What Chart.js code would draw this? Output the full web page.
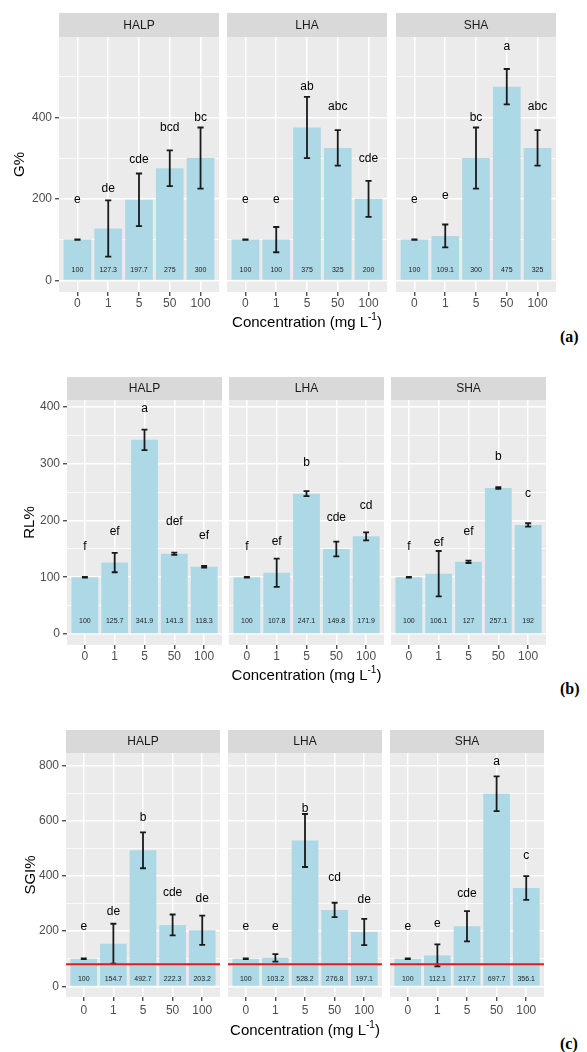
<!DOCTYPE html>
<html><head><meta charset="utf-8">
<script src="https://cdn.jsdelivr.net/npm/chart.js@4.4.0/dist/chart.umd.min.js"></script>
<style>
html,body{margin:0;padding:0;background:#fff;}
body{width:587px;height:1052px;position:relative;overflow:hidden;}
canvas{position:absolute;}
.tag{position:absolute;font-family:"Liberation Serif","Times New Roman",serif;font-weight:bold;font-size:16px;color:#000;line-height:16px;}
</style></head><body>
<div class="tag" style="left:560px;top:329px">(a)</div>
<div class="tag" style="left:560px;top:681px">(b)</div>
<div class="tag" style="left:560px;top:1036px">(c)</div>
<script>
// ---------------- data ----------------
const categories = ['0', '1', '5', '50', '100'];
const facetNames = ['HALP', 'LHA', 'SHA'];

// G% (panel a) — rows: HALP, LHA, SHA
const gMeans   = [[100, 127.3, 197.7, 275, 300], [100, 100, 375, 325, 200], [100, 109.1, 300, 475, 325]];
const gSD      = [[0.6, 69, 64.5, 44, 75], [0.6, 31, 75, 43.5, 44], [0.6, 28, 75, 43.5, 43.5]];
const gLetters = [['e', 'de', 'cde', 'bcd', 'bc'], ['e', 'e', 'ab', 'abc', 'cde'], ['e', 'e', 'bc', 'a', 'abc']];
const gLetterY = [[197, 225, 297, 375, 399], [197, 197, 475, 425, 298], [197, 207, 399, 574, 425]];
const gMajorTicks = [0, 200, 400];
const gMinorTicks = [100, 300, 500];

// RL% (panel b)
const rlMeans   = [[100, 125.7, 341.9, 141.3, 118.3], [100, 107.8, 247.1, 149.8, 171.9], [100, 106.1, 127, 257.1, 192]];
const rlSD      = [[0.6, 17, 18, 2, 1.5], [0.6, 25, 4.5, 13, 7], [0.6, 40, 2, 1.5, 3]];
const rlLetters = [['f', 'ef', 'a', 'def', 'ef'], ['f', 'ef', 'b', 'cde', 'cd'], ['f', 'ef', 'ef', 'b', 'c']];
const rlLetterY = [[154, 180, 397, 197, 173], [154, 163, 302, 204, 226], [154, 161, 181, 312, 247]];
const rlMajorTicks = [0, 100, 200, 300, 400];
const rlMinorTicks = [50, 150, 250, 350];

// SGI% (panel c)
const sgiMeans   = [[100, 154.7, 492.7, 222.3, 203.2], [100, 103.2, 528.2, 276.8, 197.1], [100, 112.1, 217.7, 697.7, 356.1]];
const sgiSD      = [[1, 72, 65, 38, 53], [1, 13.5, 96, 26, 47.5], [1, 40, 55, 63, 43]];
const sgiLetters = [['e', 'de', 'b', 'cde', 'de'], ['e', 'e', 'b', 'cd', 'de'], ['e', 'e', 'cde', 'a', 'c']];
const sgiLetterY = [[215, 270, 610, 339, 318], [215, 217, 645, 392, 314], [215, 226, 335, 814, 473]];
const sgiMajorTicks = [0, 200, 400, 600, 800];
const sgiMinorTicks = [100, 300, 500, 700];
const sgiRefLine = 80;

// ---------------- layout ----------------
const FONT = '"Liberation Sans", Arial, Helvetica, sans-serif';
const rows = [
  {title: 'G%', means: gMeans, sd: gSD, letters: gLetters, letterY: gLetterY, major: gMajorTicks, minor: gMinorTicks,
   yMin: -28.5, yMax: 597, stripTop: 13, stripH: 24, panelH: 255, lefts: [59, 227, 396], panelW: 160,
   tickArea: 22, titleArea: 36, xPad: 0, titleY: 323, yTitleX: 20, valueY: 26, ref: null},
  {title: 'RL%', means: rlMeans, sd: rlSD, letters: rlLetters, letterY: rlLetterY, major: rlMajorTicks, minor: rlMinorTicks,
   yMin: -19.4, yMax: 412, stripTop: 377, stripH: 23, panelH: 245, lefts: [67, 229, 391], panelW: 155,
   tickArea: 22, titleArea: 36, xPad: 0, titleY: 676, yTitleX: 30, valueY: 23.5, ref: null},
  {title: 'SGI%', means: sgiMeans, sd: sgiSD, letters: sgiLetters, letterY: sgiLetterY, major: sgiMajorTicks, minor: sgiMinorTicks,
   yMin: -38.5, yMax: 845, stripTop: 730, stripH: 23, panelH: 244, lefts: [66, 228, 390], panelW: 154,
   tickArea: 22, titleArea: 36, xPad: 2, titleY: 1031, yTitleX: 31, valueY: 27, ref: sgiRefLine}
];

function makeFacet(row, fi) {
  const isFirst = fi === 0, isMid = fi === 1;
  const leftSpace = isFirst ? row.lefts[0] : 0;
  const W = leftSpace + row.panelW;
  const H = row.stripH + row.panelH + row.tickArea + row.titleArea;
  const canvas = document.createElement('canvas');
  canvas.width = W; canvas.height = H;
  canvas.style.left = (row.lefts[fi] - leftSpace) + 'px';
  canvas.style.top = row.stripTop + 'px';
  canvas.style.width = W + 'px'; canvas.style.height = H + 'px';
  document.body.appendChild(canvas);

  const means = row.means[fi], sd = row.sd[fi], letters = row.letters[fi], letterY = row.letterY[fi];
  const allY = row.major.concat(row.minor).sort((a, b) => a - b);
  const isMajor = v => row.major.indexOf(v) >= 0;

  const decor = {
    id: 'decor' + fi,
    beforeDraw(chart) {
      const c = chart.ctx, ca = chart.chartArea;
      c.save();
      c.fillStyle = '#EBEBEB';
      c.fillRect(ca.left, ca.top, ca.right - ca.left, ca.bottom - ca.top);
      c.fillStyle = '#D9D9D9';
      c.fillRect(ca.left, ca.top - row.stripH, ca.right - ca.left, row.stripH);
      c.fillStyle = '#1A1A1A';
      c.font = '12px ' + FONT;
      c.textAlign = 'center'; c.textBaseline = 'middle';
      c.fillText(facetNames[fi], (ca.left + ca.right) / 2, ca.top - row.stripH / 2 + 0.5);
      c.restore();
    },
    afterDatasetsDraw(chart) {
      const c = chart.ctx, ca = chart.chartArea, xs = chart.scales.x, ys = chart.scales.y;
      c.save();
      // error bars
      c.strokeStyle = '#1A1A1A'; c.lineWidth = 1.8;
      means.forEach((m, i) => {
        const x = xs.getPixelForValue(i + 1);
        const hw = xs.getPixelForValue(i + 1.1) - x;
        const yt = ys.getPixelForValue(m + sd[i]);
        const yb = ys.getPixelForValue(m - sd[i]);
        c.beginPath();
        c.moveTo(x, yt); c.lineTo(x, yb);
        c.moveTo(x - hw, yt); c.lineTo(x + hw, yt);
        c.moveTo(x - hw, yb); c.lineTo(x + hw, yb);
        c.stroke();
      });
      // reference line
      if (row.ref !== null) {
        const yr = ys.getPixelForValue(row.ref);
        c.strokeStyle = '#E41A1C'; c.lineWidth = 2.2;
        c.beginPath(); c.moveTo(ca.left, yr); c.lineTo(ca.right, yr); c.stroke();
      }
      // value labels
      c.fillStyle = '#222'; c.font = '7px ' + FONT;
      c.textAlign = 'center'; c.textBaseline = 'middle';
      means.forEach((m, i) => {
        c.fillText(String(m), xs.getPixelForValue(i + 1), ys.getPixelForValue(row.valueY));
      });
      // significance letters
      c.fillStyle = '#000'; c.font = '12px ' + FONT;
      letters.forEach((l, i) => {
        c.fillText(l, xs.getPixelForValue(i + 1), ys.getPixelForValue(letterY[i]));
      });
      c.restore();
    },
    afterDraw(chart) {
      const c = chart.ctx, ca = chart.chartArea;
      c.save();
      c.fillStyle = '#000';
      if (isFirst) {
        c.font = '15px ' + FONT;
        c.textAlign = 'center'; c.textBaseline = 'middle';
        c.translate(row.yTitleX, (ca.top + ca.bottom) / 2);
        c.rotate(-Math.PI / 2);
        c.fillText(row.title, 0, 0);
        c.setTransform(1, 0, 0, 1, 0, 0);
      }
      if (isMid) {
        const y = row.titleY - row.stripTop;
        const p1 = 'Concentration (mg L', sup = '-1', p2 = ')';
        c.font = '15px ' + FONT;
        const w1 = c.measureText(p1).width, w3 = c.measureText(p2).width;
        c.font = '10px ' + FONT;
        const w2 = c.measureText(sup).width;
        let x = (ca.left + ca.right) / 2 - (w1 + w2 + w3) / 2;
        c.textAlign = 'left'; c.textBaseline = 'middle';
        c.font = '15px ' + FONT; c.fillText(p1, x, y); x += w1;
        c.font = '10px ' + FONT; c.fillText(sup, x, y - 6); x += w2;
        c.font = '15px ' + FONT; c.fillText(p2, x, y);
      }
      c.restore();
    }
  };

  new Chart(canvas, {
    type: 'bar',
    data: {datasets: [{
      data: means.map((v, i) => ({x: i + 1, y: v})),
      backgroundColor: '#ADD8E6', borderWidth: 0,
      barPercentage: 0.9, categoryPercentage: 1
    }]},
    options: {
      responsive: false, animation: false, devicePixelRatio: 1,
      layout: {padding: {top: row.stripH, left: 0, right: 0, bottom: row.titleArea}},
      plugins: {legend: {display: false}, tooltip: {enabled: false}},
      scales: {
        x: {
          type: 'linear', min: 0.4, max: 5.6, offset: false,
          afterBuildTicks: s => { s.ticks = categories.map((c, i) => ({value: i + 1})); },
          afterFit: s => { s.height = row.tickArea; },
          ticks: {callback: v => categories[Math.round(v) - 1], color: '#4D4D4D',
                  font: {family: FONT, size: 12}, padding: row.xPad, maxRotation: 0, autoSkip: false},
          grid: {offset: false, color: '#FFFFFF', lineWidth: 1.5, drawTicks: true, tickLength: 4,
                 tickColor: '#333333', tickWidth: 1.2},
          border: {display: false}
        },
        y: {
          type: 'linear', min: row.yMin, max: row.yMax,
          afterBuildTicks: s => { s.ticks = allY.map(v => ({value: v})); },
          afterFit: s => { s.width = leftSpace; },
          ticks: {display: isFirst, callback: v => isMajor(v) ? String(v) : '', color: '#4D4D4D',
                  font: {family: FONT, size: 12}, padding: 3, autoSkip: false},
          grid: {color: '#FFFFFF',
                 lineWidth: ctx => (ctx.tick && isMajor(ctx.tick.value)) ? 1.5 : 0.8,
                 drawTicks: isFirst, tickLength: 4,
                 tickColor: ctx => (ctx.tick && isMajor(ctx.tick.value)) ? '#333333' : 'rgba(0,0,0,0)',
                 tickWidth: 1.2},
          border: {display: false}
        }
      }
    },
    plugins: [decor]
  });
}

rows.forEach(row => { for (let fi = 0; fi < 3; fi++) makeFacet(row, fi); });
</script>
</body></html>
